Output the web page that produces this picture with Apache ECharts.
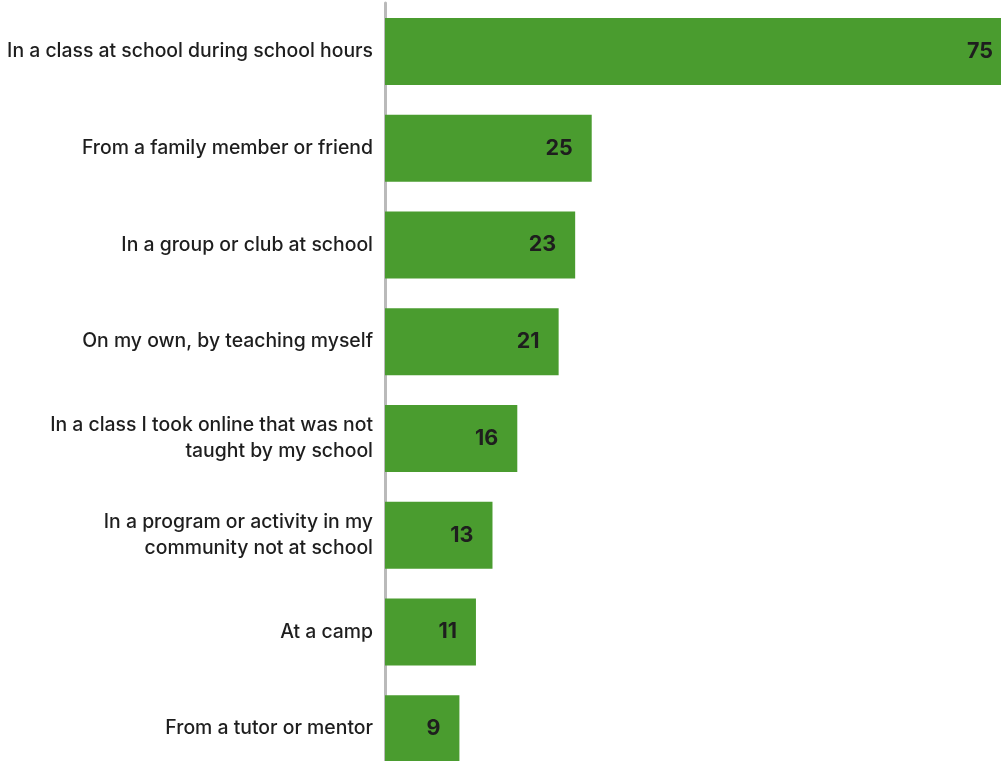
<!DOCTYPE html>
<html><head><meta charset="utf-8">
<script src="https://cdn.jsdelivr.net/npm/echarts@6/dist/echarts.min.js"></script>
<style>html,body{margin:0;padding:0;background:#fff;overflow:hidden}#c{width:1001px;height:777px}</style>
</head><body><div id="c"></div>
<script>
var categories = [
  "In a class at school during school hours",
  "From a family member or friend",
  "In a group or club at school",
  "On my own, by teaching myself",
  "In a class I took online that was not\ntaught by my school",
  "In a program or activity in my\ncommunity not at school",
  "At a camp",
  "From a tutor or mentor"
];
var values = [75, 25, 23, 21, 16, 13, 11, 9];

var chart = echarts.init(document.getElementById('c'), null, {renderer: 'canvas'});
var data = values.map(function (v, i) {
  var item = { value: v };
  if (i === 0) item.label = { distance: 8 };
  return item;
});
chart.setOption({
  animation: false,
  grid: { left: 385, right: 0, top: 3, bottom: 0 },
  xAxis: { type: 'value', min: 0, max: 74.5, show: false },
  yAxis: {
    type: 'category', data: categories, inverse: true,
    axisLine: { show: true, lineStyle: { color: '#bababa', width: 3 } },
    axisTick: { show: false },
    axisLabel: { margin: 12, color: '#1e1e1e', fontFamily: 'Inter', fontWeight: 500, fontSize: 19.4, lineHeight: 26, align: 'right' }
  },
  series: [{
    type: 'bar', data: data, barWidth: 67,
    itemStyle: { color: '#4a9c2f' },
    label: { show: true, position: 'insideRight', distance: 19, color: '#1e1e1e', fontFamily: 'Inter', fontWeight: 'bold', fontSize: 21.5 }
  }]
});
</script></body></html>
